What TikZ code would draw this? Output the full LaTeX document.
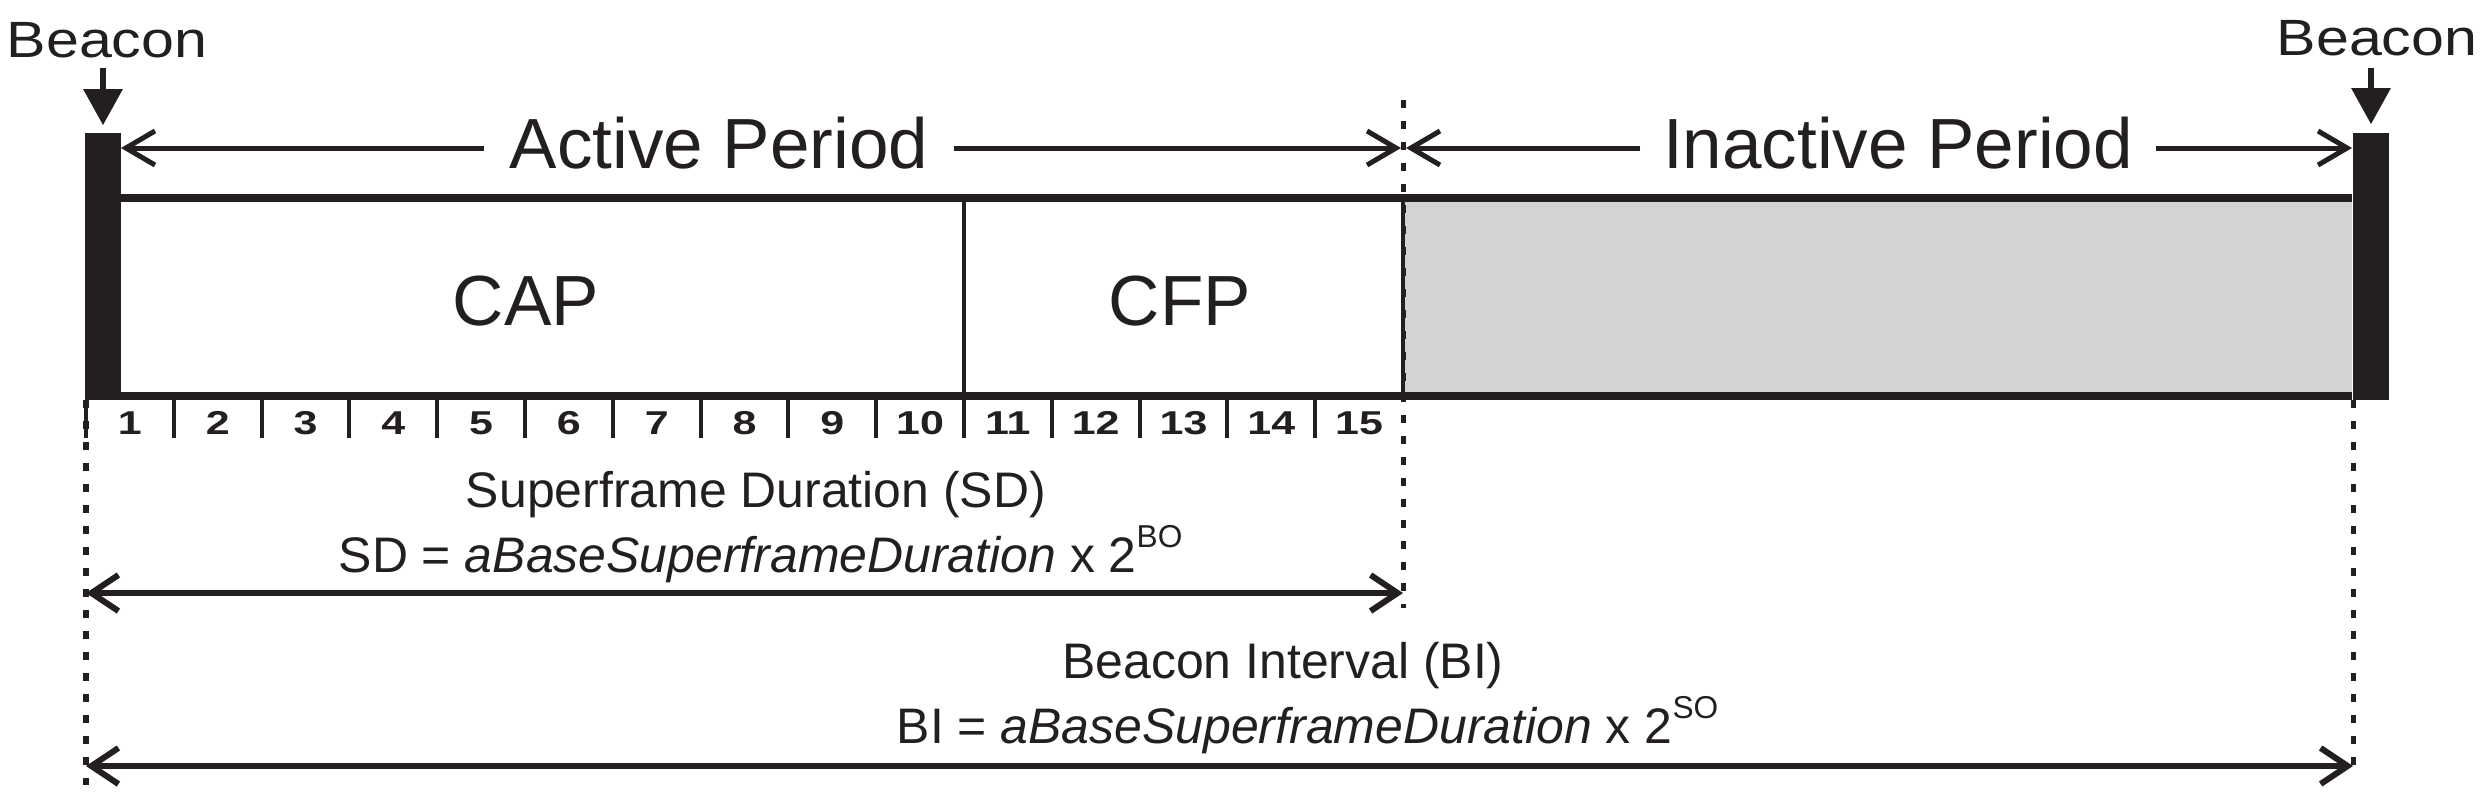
\documentclass[tikz,border=0pt]{standalone}
\usepackage{fontspec}
\setmainfont{Liberation Sans}
\newfontfamily\slotfont[FakeStretch=1.3]{Liberation Sans}
\newfontfamily\beaconfont[FakeStretch=1.16]{Liberation Sans}
\usetikzlibrary{positioning, arrows.meta, calc}
\definecolor{ink}{RGB}{35,31,32}
\definecolor{idle}{RGB}{209,211,212}

\begin{document}
\begin{tikzpicture}[
    x=0.01cm, y=-0.01cm,
    every node/.style={inner sep=0pt, text=ink},
    big/.style={font=\fontsize{20.2pt}{20.2pt}\selectfont},
    lbl/.style={font=\fontsize{14.2pt}{14.2pt}\selectfont, anchor=base},
    tag/.style={font=\beaconfont\fontsize{14.5pt}{14.5pt}\selectfont, anchor=base},
    slot/.style={font=\slotfont\bfseries\fontsize{9.4pt}{9.4pt}\selectfont},
    bcn/.style={fill=ink, minimum width=0.36cm, minimum height=2.67cm},
    half/.style={-{Straight Barb[length=0.29cm, width=0.34cm]}, line width=0.05cm, draw=ink},
    dim/.style={{Straight Barb[length=0.27cm, width=0.36cm]}-{Straight Barb[length=0.27cm, width=0.36cm]}, line width=0.06cm, draw=ink},
    drop/.style={-{Triangle[length=0.36cm, width=0.38cm]}, line width=0.06cm, draw=ink},
    guide/.style={draw=ink, line width=0.05cm, dash pattern=on 0.08cm off 0.13cm}
]
    \useasboundingbox (0,0) rectangle (2488,796);

    % Superframe body
    \fill[idle] (1403,202) rectangle (2352,392);
    \draw[ink, line width=0.08cm] (121,198) -- (2352,198);
    \draw[ink, line width=0.08cm] (121,396) -- (2352,396);
    \draw[ink, line width=0.045cm] (964,198) -- (964,396);
    \draw[ink, line width=0.045cm] (1403,198) -- (1403,396);
    \node[big] (cap) at (526,301) {CAP};
    \node[big] (cfp) at (1180,301) {CFP};

    % Beacons
    \node[bcn] (bcnL) at (103,266.5) {};
    \node[bcn] (bcnR) at (2371,266.5) {};
    \node[tag] (tagL) at (107,57) {Beacon};
    \node[tag] (tagR) at (2377,55) {Beacon};
    \draw[drop, shorten <=0.1cm, shorten >=0.07cm] (tagL.south -| bcnL) -- (bcnL.north);
    \draw[drop, shorten <=0.12cm, shorten >=0.08cm] (tagR.south -| bcnR) -- (bcnR.north);

    % Slots
    \foreach \i in {0,...,14}
        \draw[ink, line width=0.04cm] (86+\i*87.8,400) -- (86+\i*87.8,438);
    \foreach \i in {1,...,15}
        \node[slot] (s\i) at (86+\i*87.8-43.9,423) {\i};

    % Guides
    \draw[guide] (1403,100) -- (1403,608);
    \draw[guide] (86,400) -- (86,785);
    \draw[guide] (2353,400) -- (2353,775);

    % Periods
    \coordinate (aL) at (121,148);
    \coordinate (aM) at (1403,148);
    \coordinate (aR) at (2352,148);
    \node[big, anchor=base, inner xsep=0.25cm] (act) at (719,168) {Active Period};
    \node[big, anchor=base, inner xsep=0.22cm] (inact) at (1898,168) {Inactive Period};
    \draw[half] (act.west |- aL) -- (aL);
    \draw[half, shorten >=0.02cm] (act.east |- aL) -- (aM);
    \draw[half, shorten >=0.03cm] (inact.west |- aL) -- (aM);
    \draw[half] (inact.east |- aL) -- (aR);

    % Durations
    \node[lbl] (sdname) at (756,507) {Superframe Duration (SD)};
    \node[lbl, anchor=base west] (sdeq) at (338,572) {SD = \textit{aBaseSuperframeDuration} x 2\raisebox{0.25cm}{\fontsize{9pt}{9pt}\selectfont BO}};
    \node[lbl] (biname) at (1283,678) {Beacon Interval (BI)};
    \node[lbl, anchor=base west] (bieq) at (896,743) {BI = \textit{aBaseSuperframeDuration} x 2\raisebox{0.25cm}{\fontsize{9pt}{9pt}\selectfont SO}};
    \coordinate (sdL) at (86,593);
    \coordinate (sdR) at (1403,593);
    \coordinate (biL) at (86,766);
    \coordinate (biR) at (2353,766);
    \draw[dim] (sdL) -- (sdR);
    \draw[dim] (biL) -- (biR);
\end{tikzpicture}
\end{document}
